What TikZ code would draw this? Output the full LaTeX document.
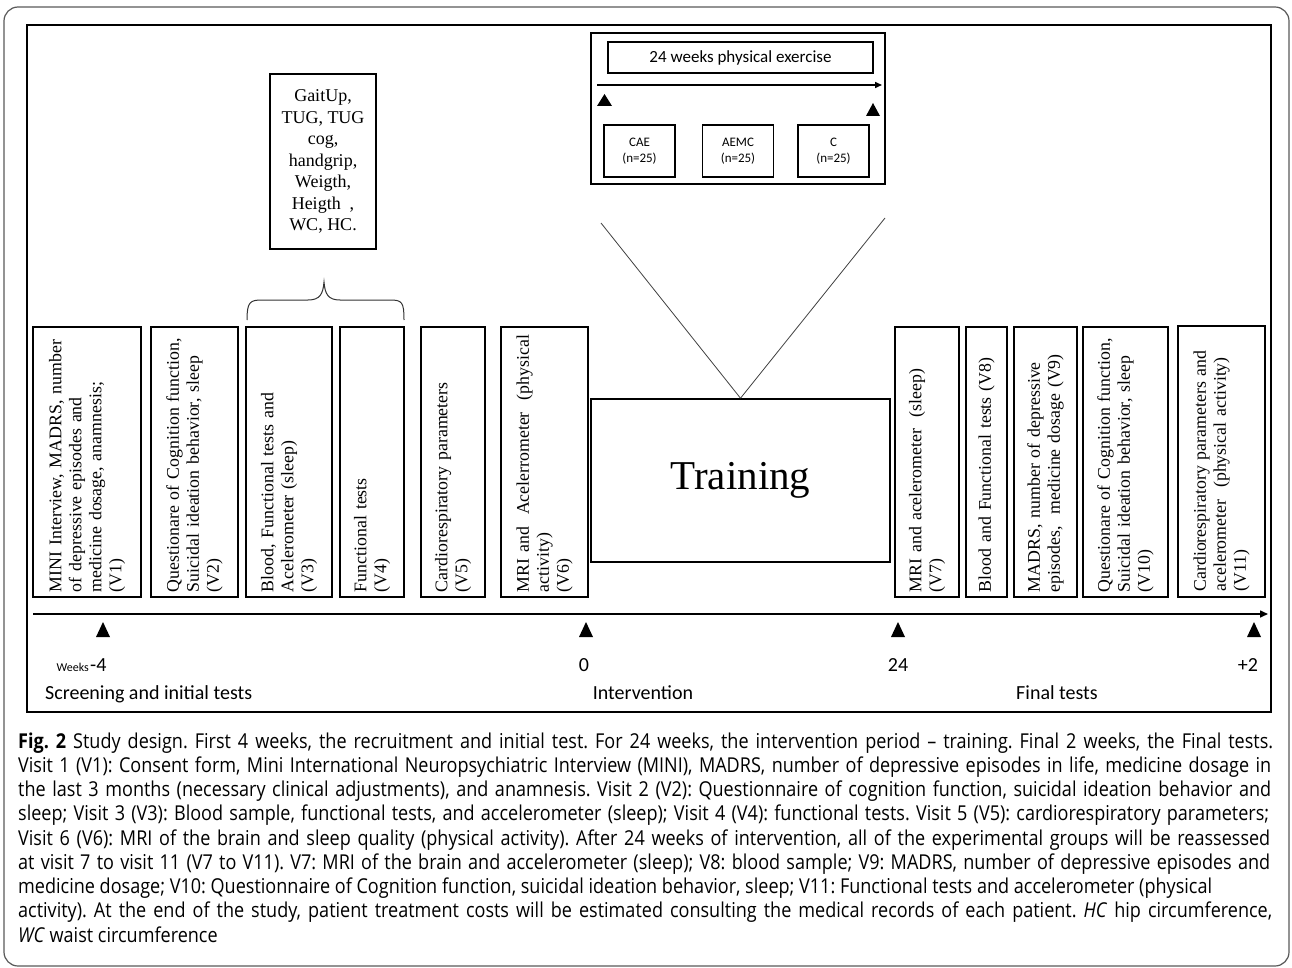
\documentclass[tikz,border=0pt]{standalone}
\usepackage{fontspec}
\setmainfont{Liberation Serif}
\newfontfamily\calibrifont{Carlito}
\newfontfamily\capfont[FakeStretch=0.88]{Open Sans}
\usetikzlibrary{arrows.meta}
\begin{document}
\begin{tikzpicture}[x=1pt,y=-1pt,
  vtext/.style={draw, line width=1.6pt, rotate=90, inner xsep=5pt, inner ysep=0pt,
    align=left, minimum width=270pt, text width=260pt,
    font=\fontsize{17.8}{20}\selectfont},
  plainbox/.style={draw, line width=1.6pt, inner sep=0pt},
  grpbox/.style={draw, line width=1.4pt, inner sep=0pt, minimum width=71pt, minimum height=52pt,
    align=center, font=\calibrifont\fontsize{13}{16}\selectfont},
  lab/.style={inner sep=0pt, font=\calibrifont\fontsize{20}{24}\selectfont},
  capl/.style={anchor=base west, inner sep=0pt, font=\capfont\fontsize{20.5}{24}\selectfont\frenchspacing},
]
\useasboundingbox (0,0) rectangle (1292,968);
% outer frame
\draw[line width=1.2pt, draw=black!65, rounded corners=14pt] (4,7) rectangle (1289,966);
% inner frame
\draw[line width=2.6pt] (27,25) rectangle (1271,712);

% top box
\node[plainbox, minimum width=294pt, minimum height=151pt] (topbox) at (738,108.5) {};
\node[draw, line width=1.2pt, inner sep=0pt, minimum width=265pt, minimum height=31pt,
  font=\calibrifont\fontsize{17}{20}\selectfont] (weeks24) at (740.5,57.5) {24 weeks physical exercise};
\coordinate (ta) at (597,85);
\coordinate (tb) at (882,85);
\draw[line width=1.5pt, -{Triangle[length=7pt,width=6pt]}] (ta) -- (tb);
\fill (597,106) -- (612,106) -- (604.5,94) -- cycle;
\fill (866,116) -- (880,116) -- (873,103) -- cycle;
\node[grpbox] (cae) at (639.5,151) {CAE\\(n=25)};
\node[grpbox] (aemc) at (738,151) {AEMC\\(n=25)};
\node[grpbox] (cgrp) at (833.5,151) {C\\(n=25)};

% training
\node[plainbox, minimum width=299pt, minimum height=163pt,
  font=\fontsize{41}{48}\selectfont] (training) at (740.5,480.5) {Training};
\coordinate (vl) at (601,223);
\coordinate (vr) at (885,218);
\draw[line width=0.8pt, draw=black!75] (vl) -- (training.north);
\draw[line width=0.8pt, draw=black!75] (vr) -- (training.north);

% GaitUp box
\node[plainbox, minimum width=106pt, minimum height=175pt, align=center,
  font=\fontsize{18}{21.5}\selectfont] (gait) at (323,161.5)
  {GaitUp,\\TUG, TUG\\cog,\\handgrip,\\Weigth,\\Heigth~ ,\\WC, HC.};
% brace
\draw[line width=1pt, draw=black!80] (247,320) .. controls (247,302) and (250,300) .. (262,300)
  -- (308,300) .. controls (320,300) and (323,294) .. (324,282)
  .. controls (325,294) and (328,300) .. (340,300) -- (390,300)
  .. controls (402,300) and (404,302) .. (404,320);

% visit boxes
\node[vtext, minimum height=108pt] (v1) at (87,462)
  {\mbox{MINI Interview, MADRS, number}\\of depressive episodes and\\medicine dosage, anamnesis;\\(V1)};
\node[vtext, minimum height=87pt] (v2) at (194.5,462)
  {Questionare of Cognition function,\\Suicidal ideation behavior, sleep\\(V2)};
\node[vtext, minimum height=86pt] (v3) at (289,462)
  {Blood, Functional tests and\\Acelerometer (sleep)\\(V3)};
\node[vtext, minimum height=64pt] (v4) at (372,462)
  {Functional tests\\(V4)};
\node[vtext, minimum height=64pt] (v5) at (453,462)
  {Cardiorespiratory parameters\\(V5)};
\node[vtext, minimum height=87pt] (v6) at (544.5,462)
  {MRI and~ Acelerrometer~ (physical\\activity)\\(V6)};
\node[vtext, minimum height=64pt] (v7) at (927,462)
  {MRI and acelerometer~ (sleep)\\(V7)};
\node[vtext, minimum height=41pt] (v8) at (986.5,462)
  {Blood and Functional tests (V8)};
\node[vtext, minimum height=63pt] (v9) at (1045.5,462)
  {MADRS, number of depressive\\episodes,~ medicine dosage (V9)};
\node[vtext, minimum height=85pt] (v10) at (1125.5,462)
  {Questionare of Cognition function,\\Suicidal ideation behavior, sleep\\(V10)};
\node[vtext, minimum height=87pt, minimum width=271pt] (v11) at (1221.5,461.5)
  {Cardiorespiratory parameters and\\acelerometer~ (physical activity)\\(V11)};

% time axis
\coordinate (axa) at (33,614);
\coordinate (axb) at (1268,614);
\draw[line width=1.5pt, -{Triangle[length=8pt,width=7pt]}] (axa) -- (axb);
\foreach \xx in {103,586,898,1254}{
  \fill (\xx-7,637) -- (\xx+7,637) -- (\xx,622) -- cycle;
}
\node[inner sep=0pt, font=\calibrifont\fontsize{12}{14}\selectfont, anchor=base east] (wk) at (89,671) {Weeks};
\node[lab, anchor=base west] (m4) at (90,671) {-4};
\node[lab, anchor=base] (t0) at (584,671) {0};
\node[lab, anchor=base] (t24) at (898,671) {24};
\node[lab, anchor=base] (t2) at (1248,671) {+2};
\node[lab, anchor=base west] (scr) at (45,699) {Screening and initial tests};
\node[lab, anchor=base] (intv) at (643,699) {Intervention};
\node[lab, anchor=base] (fin) at (1057,699) {Final tests};

% caption
\node[capl] (c1) at (18,748) {\makebox[1255pt][s]{\textbf{Fig. 2} Study design. First 4 weeks, the recruitment and initial test. For 24 weeks, the intervention period – training. Final 2 weeks, the Final tests.}};
\node[capl] (c2) at (18,772.25) {\makebox[1253pt][s]{Visit 1 (V1): Consent form, Mini International Neuropsychiatric Interview (MINI), MADRS, number of depressive episodes in life, medicine dosage in}};
\node[capl] (c3) at (18,796.5) {\makebox[1253pt][s]{the last 3 months (necessary clinical adjustments), and anamnesis. Visit 2 (V2): Questionnaire of cognition function, suicidal ideation behavior and}};
\node[capl] (c4) at (18,820.75) {\makebox[1251pt][s]{sleep; Visit 3 (V3): Blood sample, functional tests, and accelerometer (sleep); Visit 4 (V4): functional tests. Visit 5 (V5): cardiorespiratory parameters;}};
\node[capl] (c5) at (18,845) {\makebox[1252pt][s]{Visit 6 (V6): MRI of the brain and sleep quality (physical activity). After 24 weeks of intervention, all of the experimental groups will be reassessed}};
\node[capl] (c6) at (18,869.25) {\makebox[1252pt][s]{at visit 7 to visit 11 (V7 to V11). V7: MRI of the brain and accelerometer (sleep); V8: blood sample; V9: MADRS, number of depressive episodes and}};
\node[capl] (c7) at (18,893.5) {medicine dosage; V10: Questionnaire of Cognition function, suicidal ideation behavior, sleep; V11: Functional tests and accelerometer (physical};
\node[capl] (c8) at (18,917.75) {\makebox[1254pt][s]{activity). At the end of the study, patient treatment costs will be estimated consulting the medical records of each patient. \textit{HC} hip circumference,}};
\node[capl] (c9) at (18,942) {\textit{WC} waist circumference};
\end{tikzpicture}
\end{document}
